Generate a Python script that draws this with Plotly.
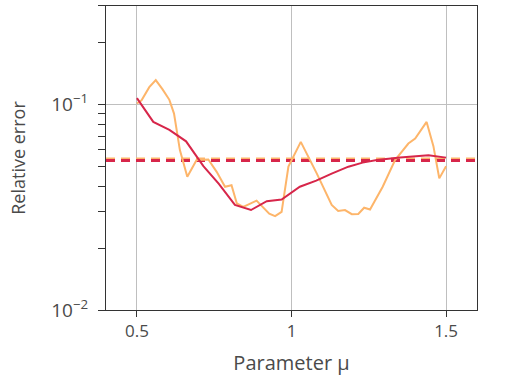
import plotly.graph_objects as go

# Red series (reduced model error)
red_x = [0.5, 0.553, 0.605, 0.659, 0.715, 0.765, 0.817, 0.869, 0.92, 0.968,
         1.027, 1.08, 1.13, 1.184, 1.23, 1.276, 1.351, 1.443, 1.5]
red_y = [0.107, 0.082, 0.075, 0.066, 0.050, 0.041, 0.0324, 0.0306, 0.0338, 0.0344,
         0.0397, 0.0425, 0.046, 0.0497, 0.052, 0.0535, 0.0551, 0.0565, 0.055]

# Orange series
orange_x = [0.5, 0.515, 0.540, 0.561, 0.583, 0.605, 0.620, 0.639, 0.663, 0.693,
            0.731, 0.758, 0.785, 0.806, 0.823, 0.844, 0.887, 0.928, 0.947, 0.968,
            0.99, 1.03, 1.082, 1.13, 1.151, 1.173, 1.195, 1.216, 1.235, 1.254,
            1.295, 1.335, 1.378, 1.40, 1.437, 1.459, 1.478, 1.5]
orange_y = [0.1007, 0.1045, 0.121, 0.131, 0.118, 0.105, 0.090, 0.0598, 0.0444, 0.0535,
            0.0539, 0.0469, 0.0397, 0.0404, 0.033, 0.0317, 0.034, 0.0294, 0.0286, 0.030,
            0.0497, 0.0656, 0.046, 0.0324, 0.0303, 0.0306, 0.0292, 0.0293, 0.0314, 0.0308,
            0.0397, 0.0535, 0.0644, 0.068, 0.082, 0.0625, 0.0436, 0.050]

# Mean levels (dashed)
orange_mean = 0.0541
red_mean = 0.0532

x_range = [0.4, 1.6]
x_ticks = [0.5, 1, 1.5]
x_ticktext = ["0.5", "1", "1.5"]
y_ticks = [0.01, 0.1]
y_ticktext = ["10<sup>−2</sup>", "10<sup>−1</sup>"]
y_minor = [0.02, 0.03, 0.04, 0.05, 0.06, 0.07, 0.08, 0.09, 0.2, 0.3]

RED = "#d7264a"
ORANGE = "#fdb56a"

fig = go.Figure()
fig.add_trace(go.Scatter(x=x_range, y=[orange_mean, orange_mean], mode="lines",
                         line=dict(color=ORANGE, width=3, dash="9px,6px"), showlegend=False))
fig.add_trace(go.Scatter(x=x_range, y=[red_mean, red_mean], mode="lines",
                         line=dict(color=RED, width=3, dash="9px,6px"), showlegend=False))
fig.add_trace(go.Scatter(x=orange_x, y=orange_y, mode="lines",
                         line=dict(color=ORANGE, width=2), showlegend=False))
fig.add_trace(go.Scatter(x=red_x, y=red_y, mode="lines",
                         line=dict(color=RED, width=2), showlegend=False))

font_color = "#4a4a4a"
fig.update_layout(
    width=507, height=376,
    margin=dict(l=106, r=30, t=6, b=66),
    paper_bgcolor="white", plot_bgcolor="white",
    font=dict(family="Open Sans", size=17, color=font_color),
    xaxis=dict(range=x_range, tickvals=x_ticks, ticktext=x_ticktext,
               showgrid=True, gridcolor="#bfbfbf", gridwidth=1,
               ticks="outside", ticklen=6, tickcolor="#333", tickwidth=1,
               showline=True, linecolor="#333", linewidth=1, mirror=True,
               zeroline=False, tickfont=dict(size=17),
               title=dict(text="Parameter μ", standoff=14)),
    yaxis=dict(type="log", range=[-2, -0.523], tickvals=y_ticks, ticktext=y_ticktext,
               showgrid=True, gridcolor="#bfbfbf", gridwidth=1,
               ticks="outside", ticklen=7, tickcolor="#333", tickwidth=1,
               showline=True, linecolor="#333", linewidth=1, mirror=True,
               zeroline=False, tickfont=dict(size=19), ticklabelstandoff=6,
               minor=dict(tickvals=y_minor, ticks="outside", ticklen=7,
                          tickcolor="#333", tickwidth=1, showgrid=False),
               title=dict(text="Relative error", standoff=20, font=dict(size=18))),
)

fig.write_html("out.html", config={"displayModeBar": False},
               post_script="document.body.style.margin='0';")
